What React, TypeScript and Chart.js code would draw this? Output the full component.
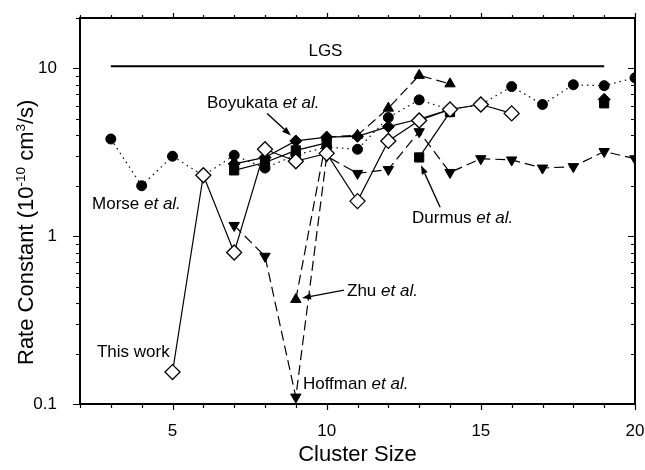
import React, { useEffect, useRef } from 'react';
import { Chart, registerables } from 'chart.js';

Chart.register(...registerables);

// ---- data ----
const clusterSizes = [3, 4, 5, 6, 7, 8, 9, 10, 11, 12, 13, 14, 15, 16, 17, 18, 19, 20];
const thisWork = [null, null, 0.155, 2.31, 0.8, 3.3, 2.8, 3.12, 1.62, 3.7, 4.9, 5.7, 6.1, 5.4, null, null, null, null];
const morse = [3.8, 2.0, 3.0, 2.3, 3.04, 2.55, 3.05, 3.4, 3.3, 5.1, 6.5, 5.7, 6.1, 7.8, 6.1, 8.0, 7.9, 8.8];
const hoffman = [null, null, null, null, 1.16, 0.76, 0.11, 3.0, 2.37, 2.5, 4.2, 2.4, 2.9, 2.85, 2.55, 2.6, 3.2, 2.9];
const zhu = [null, null, null, null, null, null, 0.42, 3.9, 4.0, 5.8, 9.1, 8.1, null, null, null, null, null, null];
const boyukata = [null, null, null, null, 2.7, 2.95, 3.7, 3.9, 3.94, 4.5, 5.0, 5.7, null, null, null, null, 6.55, null];
const durmus = [null, null, null, null, 2.47, 2.75, 3.25, 3.6, null, null, 2.95, 5.5, null, null, null, null, 6.2, null];
const lgsSizes = [3, 19];
const lgsValues = [10.3, 10.3];

const xTickValues = [5, 10, 15, 20];
const yTickValues = [0.1, 1, 10];
const yTickLabels = ['0.1', '1', '10'];

// text annotations (data coordinates)
const annotationNames = ['LGS', 'Boyukata ', 'Morse ', 'Durmus ', 'Zhu ', 'Hoffman ', 'This work'];
const annotationItalic = ['', 'et al.', 'et al.', 'et al.', 'et al.', 'et al.', ''];
const annotationX = [9.96, 6.12, 2.39, 12.77, 10.66, 9.23, 2.55];
const annotationY = [12.6, 6.19, 1.55, 1.28, 0.471, 0.1315, 0.204];
const annotationAlign = ['center', 'left', 'left', 'left', 'left', 'left', 'left'];

// arrows: [fromX, fromY, toX, toY]
const arrows = [
  [8.07, 5.4, 8.84, 3.99],
  [13.68, 1.49, 13.06, 2.65],
  [10.56, 0.477, 9.2, 0.428],
];

const FONT = "'Liberation Sans', Arial, Helvetica, sans-serif";

function series(values: (number | null)[]) {
  return clusterSizes.map((x, i) => ({ x, y: values[i] }));
}

function zeroPad(s: any) {
  s.paddingTop = 0;
  s.paddingBottom = 0;
  s.paddingLeft = 0;
  s.paddingRight = 0;
}

const decorPlugin = {
  id: 'decor',
  afterDraw(chart: any) {
    const { ctx, chartArea, scales } = chart;
    const xs = scales.x;
    const ys = scales.y;
    const { left, right, top, bottom } = chartArea;
    ctx.save();
    ctx.strokeStyle = '#000';
    ctx.fillStyle = '#000';

    // frame
    ctx.lineWidth = 2;
    ctx.beginPath();
    ctx.rect(left, top, right - left, bottom - top);
    ctx.stroke();

    // x ticks (every integer)
    ctx.lineWidth = 1.2;
    for (let v = Math.ceil(xs.min); v <= xs.max; v++) {
      const p = Math.round(xs.getPixelForValue(v)) + 0.5;
      const major = v % 5 === 0;
      ctx.beginPath();
      ctx.moveTo(p, bottom);
      ctx.lineTo(p, bottom + (major ? 6 : 4));
      ctx.moveTo(p, top);
      ctx.lineTo(p, top - (major ? 5 : 3));
      ctx.stroke();
    }
    // y ticks (log)
    for (let d = -1; d <= 1; d++) {
      for (let m = 1; m <= 9; m++) {
        const v = m * Math.pow(10, d);
        if (v < ys.min - 1e-9 || v > ys.max + 1e-9) continue;
        const p = Math.round(ys.getPixelForValue(v)) + 0.5;
        const major = m === 1;
        ctx.beginPath();
        ctx.moveTo(left, p);
        ctx.lineTo(left - (major ? 7 : 4), p);
        ctx.moveTo(right, p);
        ctx.lineTo(right - (major ? 7 : 4), p);
        ctx.stroke();
      }
    }

    // annotations text
    ctx.textBaseline = 'middle';
    for (let i = 0; i < annotationNames.length; i++) {
      const x = xs.getPixelForValue(annotationX[i]);
      const y = ys.getPixelForValue(annotationY[i]);
      ctx.font = `17px ${FONT}`;
      const w1 = ctx.measureText(annotationNames[i]).width;
      ctx.font = `italic 17px ${FONT}`;
      const w2 = ctx.measureText(annotationItalic[i]).width;
      let x0 = x;
      if (annotationAlign[i] === 'center') x0 = x - (w1 + w2) / 2;
      ctx.textAlign = 'left';
      ctx.font = `17px ${FONT}`;
      ctx.fillText(annotationNames[i], x0, y);
      if (annotationItalic[i]) {
        ctx.font = `italic 17px ${FONT}`;
        ctx.fillText(annotationItalic[i], x0 + w1, y);
      }
    }

    // arrows
    ctx.lineWidth = 1.4;
    for (const a of arrows) {
      const x1 = xs.getPixelForValue(a[0]);
      const y1 = ys.getPixelForValue(a[1]);
      const x2 = xs.getPixelForValue(a[2]);
      const y2 = ys.getPixelForValue(a[3]);
      const ang = Math.atan2(y2 - y1, x2 - x1);
      const hl = 9, hw = 3.2;
      const bx = x2 - Math.cos(ang) * hl;
      const by = y2 - Math.sin(ang) * hl;
      ctx.beginPath();
      ctx.moveTo(x1, y1);
      ctx.lineTo(bx, by);
      ctx.stroke();
      ctx.beginPath();
      ctx.moveTo(x2, y2);
      ctx.lineTo(bx + Math.sin(ang) * hw, by - Math.cos(ang) * hw);
      ctx.lineTo(bx - Math.sin(ang) * hw, by + Math.cos(ang) * hw);
      ctx.closePath();
      ctx.fill();
    }

    // y axis title with superscripts
    const parts: [string, number, number][] = [
      ['Rate Constant (10', 22, 0],
      ['-10', 13.5, -8.5],
      [' cm', 22, 0],
      ['3', 13.5, -8.5],
      ['/s)', 22, 0],
    ];
    ctx.translate(33, 365);
    ctx.rotate(-Math.PI / 2);
    ctx.textAlign = 'left';
    ctx.textBaseline = 'alphabetic';
    let u = 0;
    for (const p of parts) {
      ctx.font = `${p[1]}px ${FONT}`;
      ctx.fillText(p[0], u, p[2]);
      u += ctx.measureText(p[0]).width;
    }
    ctx.restore();
  },
};

export default function App() {
  const ref = useRef<HTMLCanvasElement | null>(null);
  useEffect(() => {
    if (!ref.current) return;
    const common = { borderColor: '#000', borderWidth: 1.2, spanGaps: false, fill: false, tension: 0 };
    const chart = new Chart(ref.current, {
      type: 'line',
      data: {
        datasets: [
          {
            label: 'This work', data: series(thisWork), ...common,
            pointStyle: 'rectRot', pointRadius: 7.5, pointBackgroundColor: '#fff', pointBorderColor: '#000', pointBorderWidth: 1.3,
          },
          {
            label: 'Boyukata et al.', data: series(boyukata), ...common,
            pointStyle: 'rectRot', pointRadius: 6, pointBackgroundColor: '#000', pointBorderColor: '#000', pointBorderWidth: 1,
          },
          {
            label: 'Durmus et al.', data: series(durmus), ...common,
            pointStyle: 'rect', pointRadius: 6.5, pointBackgroundColor: '#000', pointBorderColor: '#000', pointBorderWidth: 1,
          },
          {
            label: 'Zhu et al.', data: series(zhu), ...common, borderDash: [10, 5],
            pointStyle: 'triangle', pointRadius: 6, pointBackgroundColor: '#000', pointBorderColor: '#000', pointBorderWidth: 1,
          },
          {
            label: 'Hoffman et al.', data: series(hoffman), ...common, borderDash: [10, 5],
            pointStyle: 'triangle', pointRotation: 180, pointRadius: 6, pointBackgroundColor: '#000', pointBorderColor: '#000', pointBorderWidth: 1,
          },
          {
            label: 'Morse et al.', data: series(morse), ...common, borderDash: [1.5, 4],
            pointStyle: 'circle', pointRadius: 5, pointBackgroundColor: '#000', pointBorderColor: '#000', pointBorderWidth: 1,
          },
          {
            label: 'LGS', data: lgsSizes.map((x, i) => ({ x, y: lgsValues[i] })), borderColor: '#000', borderWidth: 2,
            pointRadius: 0, fill: false,
          },
        ],
      },
      options: {
        responsive: false,
        animation: false,
        devicePixelRatio: 1,
        layout: { padding: { top: 18, right: 10, left: 0, bottom: 0 } },
        plugins: { legend: { display: false }, tooltip: { enabled: false } },
        scales: {
          x: {
            type: 'linear', min: 2, max: 20,
            afterBuildTicks: (s: any) => { s.ticks = xTickValues.map((v) => ({ value: v })); },
            afterFit: (s: any) => { s.height = 66; zeroPad(s); },
            grid: { display: false }, border: { display: false },
            ticks: {
              color: '#000', font: { family: FONT, size: 17 }, padding: 9, maxRotation: 0, autoSkip: false,
              callback: (v: any) => String(v),
            },
            title: { display: true, text: 'Cluster Size', color: '#000', font: { family: FONT, size: 22 }, padding: { top: 0, bottom: 2 } },
          },
          y: {
            type: 'logarithmic', min: 0.1, max: 20,
            afterBuildTicks: (s: any) => { s.ticks = yTickValues.map((v) => ({ value: v })); },
            afterFit: (s: any) => { s.width = 80; zeroPad(s); },
            grid: { display: false }, border: { display: false },
            ticks: {
              color: '#000', font: { family: FONT, size: 17 }, padding: 15, autoSkip: false,
              callback: (_v: any, i: number) => yTickLabels[i],
            },
          },
        },
      },
      plugins: [decorPlugin],
    } as any);
    return () => chart.destroy();
  }, []);
  return (
    <div style={{ position: 'fixed', left: 0, top: 0, width: 645, height: 470, background: '#fff' }}>
      <canvas ref={ref} width={645} height={470} />
    </div>
  );
}
